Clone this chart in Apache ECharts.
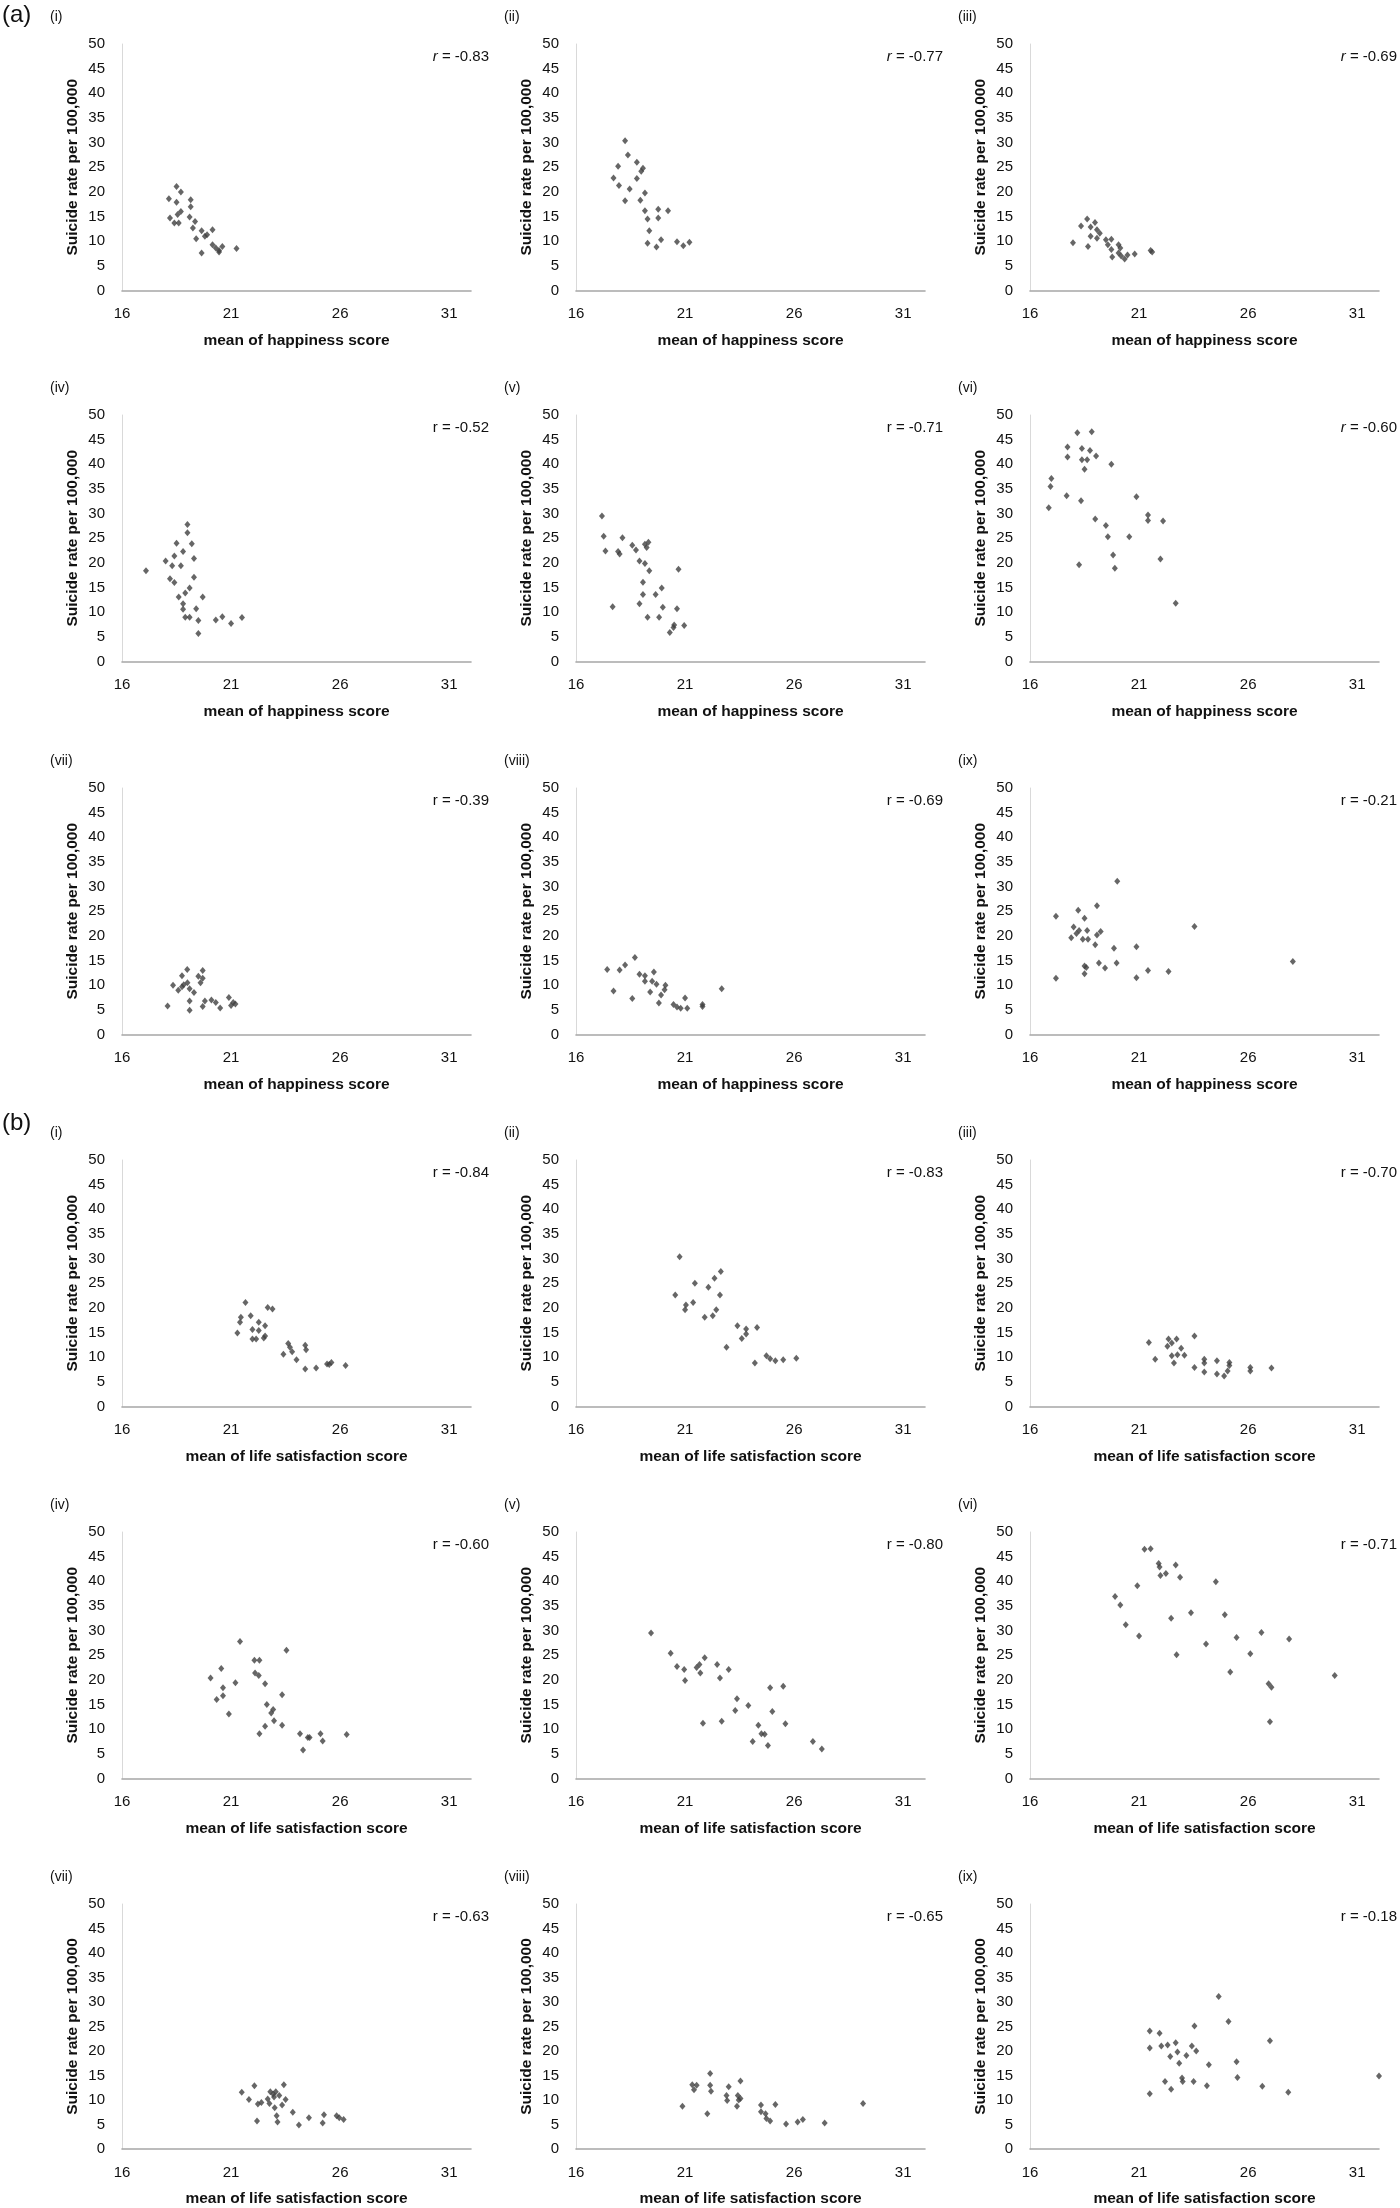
<!DOCTYPE html>
<html>
<head>
<meta charset="utf-8">
<script src="https://cdn.jsdelivr.net/npm/echarts@6/dist/echarts.min.js"></script>
<style>
  html, body { margin: 0; padding: 0; background: #fff; }
  #chart { width: 1400px; height: 2208px; }
</style>
</head>
<body>
<div id="chart"></div>
<script>
// ---------- data: [mean score, suicide rate per 100,000] ----------
const a1 = [[18.5,21.1],[18.7,20.0],[18.15,18.6],[18.5,17.9],[19.15,18.4],[19.15,17.0],[18.7,16.0],[18.2,14.7],[18.4,13.7],[18.6,13.7],[19.1,14.9],[19.35,14.0],[19.25,12.7],[19.65,12.1],[20.15,12.3],[19.4,10.5],[19.8,11.0],[19.9,11.3],[19.65,7.6],[20.15,9.3],[20.3,8.6],[20.45,8.1],[20.6,8.9],[20.45,7.8],[21.25,8.5],[18.55,15.4]];
const a2 = [[18.25,30.4],[18.38,27.5],[17.93,25.2],[18.79,26.0],[18.99,24.2],[19.07,24.8],[17.72,22.8],[18.79,22.7],[17.97,21.3],[18.46,20.6],[19.16,19.8],[18.25,18.2],[18.95,18.3],[19.16,16.2],[19.77,16.5],[20.22,16.2],[19.28,14.5],[19.77,14.7],[19.36,12.1],[19.28,9.6],[19.69,8.8],[19.9,10.3],[20.63,9.9],[20.92,9.1],[21.2,9.8]];
const a3 = [[18.62,14.5],[18.34,13.1],[18.98,13.8],[18.78,12.9],[19.07,12.3],[19.2,11.6],[18.78,11.0],[19.07,10.6],[18.66,8.9],[17.97,9.7],[19.48,10.3],[19.73,10.4],[19.57,9.3],[20.06,9.3],[20.14,8.6],[19.73,8.3],[20.06,7.6],[19.77,6.8],[20.18,7.0],[20.34,6.4],[20.47,7.2],[20.8,7.4],[21.53,8.1],[21.6,7.8]];
const a4 = [[17.1,18.4],[19.0,27.8],[19.0,26.1],[18.5,24.0],[19.2,23.9],[18.8,22.3],[18.4,21.4],[19.3,20.9],[18.0,20.4],[18.3,19.4],[18.7,19.4],[18.2,16.8],[18.4,16.0],[19.3,17.1],[19.1,14.9],[18.9,13.9],[18.6,13.1],[19.7,13.1],[18.8,11.7],[18.8,10.6],[19.4,10.7],[18.9,9.0],[19.1,9.0],[19.5,8.3],[20.3,8.4],[20.6,9.1],[21.0,7.7],[21.5,8.9],[19.5,5.7]];
const a5 = [[17.19,29.5],[17.27,25.4],[18.13,25.1],[17.35,22.4],[17.93,22.3],[18.0,21.8],[18.58,23.6],[18.75,22.6],[19.16,23.8],[19.32,24.2],[19.24,23.1],[18.91,20.4],[19.16,19.9],[19.36,18.4],[20.7,18.7],[17.68,11.1],[19.07,16.1],[19.93,14.9],[19.65,13.6],[19.07,13.6],[18.91,11.7],[19.98,11.0],[20.63,10.7],[19.28,9.0],[19.81,9.0],[20.47,6.9],[20.3,5.9],[20.96,7.3],[20.5,7.4]];
const a6 = [[18.17,46.4],[18.83,46.6],[17.72,43.5],[17.72,41.5],[18.38,43.2],[18.75,42.8],[19.03,41.7],[18.38,40.9],[18.62,40.9],[19.73,40.0],[18.5,39.0],[16.98,37.1],[16.94,35.5],[17.68,33.6],[18.34,32.6],[16.86,31.2],[20.88,33.4],[21.41,29.7],[21.41,28.6],[22.1,28.5],[18.99,28.9],[19.48,27.6],[20.55,25.3],[19.57,25.3],[19.81,21.6],[19.89,18.9],[18.25,19.6],[21.98,20.8],[22.68,11.8]];
const a7 = [[18.09,5.8],[18.34,10.0],[18.58,9.0],[18.75,11.9],[18.99,13.2],[18.83,10.1],[19.0,10.5],[19.1,9.3],[19.3,8.5],[19.5,11.8],[19.7,13.0],[19.6,10.5],[19.7,11.4],[19.1,6.8],[19.1,4.9],[19.7,5.7],[19.8,6.8],[20.1,7.0],[20.3,6.5],[20.5,5.4],[20.9,7.5],[21.0,5.9],[21.1,6.5],[21.2,6.2],[18.75,9.7]];
const a8 = [[17.43,13.2],[18.0,13.1],[18.25,14.1],[18.7,15.6],[17.72,8.8],[18.58,7.3],[18.91,12.2],[19.16,11.9],[19.57,12.7],[19.16,10.8],[19.49,10.8],[19.69,10.2],[20.1,10.0],[20.06,9.1],[19.4,8.6],[19.9,8.0],[19.8,6.4],[20.47,6.1],[20.63,5.6],[20.8,5.3],[21.1,5.3],[21.0,7.4],[21.8,6.1],[21.8,5.7],[22.68,9.3]];
const a9 = [[17.19,24.0],[17.19,11.4],[18.21,25.2],[19.07,26.1],[18.5,23.6],[18.0,21.8],[18.25,21.1],[18.62,21.1],[19.24,20.9],[17.89,19.6],[18.13,20.5],[18.42,19.3],[18.66,19.3],[19.07,20.2],[18.99,18.2],[19.85,17.5],[20.88,17.8],[20.0,31.1],[23.54,21.9],[19.16,14.5],[18.5,13.9],[18.58,13.6],[19.44,13.5],[19.97,14.5],[18.5,12.3],[20.88,11.5],[21.41,13.0],[22.35,12.8],[28.05,14.8]];

const b1 = [[21.66,21.1],[21.45,18.1],[21.41,17.1],[21.9,18.4],[22.68,20.1],[22.9,19.8],[22.27,17.1],[22.56,16.4],[21.98,15.6],[22.27,15.4],[21.29,14.9],[21.98,13.7],[22.15,13.7],[22.56,14.3],[22.5,13.9],[23.62,12.8],[24.4,12.4],[23.7,12.0],[23.8,11.1],[23.4,10.6],[24.44,11.5],[24.0,9.5],[24.4,7.6],[24.9,7.8],[25.4,8.6],[25.6,8.9],[25.5,8.5],[26.25,8.3]];
const b2 = [[20.75,30.4],[20.55,22.6],[21.04,20.6],[21.0,19.6],[21.37,21.1],[21.45,25.0],[22.64,27.4],[22.35,26.0],[22.07,24.2],[22.6,22.6],[22.43,19.6],[22.27,18.4],[21.9,18.1],[23.4,16.4],[23.8,15.7],[24.3,16.0],[23.8,14.7],[23.6,13.8],[22.9,12.0],[24.73,10.3],[24.9,9.7],[25.14,9.3],[25.5,9.5],[24.2,8.8],[26.1,9.8]];
const b3 = [[21.45,13.0],[21.74,9.6],[22.35,13.7],[22.72,13.7],[22.5,12.9],[22.3,12.2],[22.93,11.8],[23.54,14.3],[22.5,10.3],[22.76,10.5],[23.08,10.4],[22.6,8.8],[23.99,9.6],[23.99,8.8],[24.57,9.3],[25.14,8.9],[25.14,8.3],[23.54,7.9],[23.99,7.0],[24.57,6.6],[24.9,6.2],[25.06,7.2],[26.1,7.9],[26.1,7.2],[27.07,7.8]];
const b4 = [[20.06,20.4],[20.55,22.3],[21.41,27.8],[21.2,19.4],[20.63,18.4],[20.63,16.8],[20.34,16.0],[20.9,13.1],[22.07,24.0],[22.3,24.0],[22.1,21.4],[22.27,20.9],[22.56,19.2],[23.54,26.0],[23.34,17.0],[22.64,15.0],[22.93,14.0],[22.84,13.3],[22.97,11.7],[23.34,10.8],[22.56,10.6],[22.3,9.1],[24.16,9.1],[24.52,8.3],[24.6,8.3],[25.1,9.1],[25.2,7.6],[26.3,8.9],[24.3,5.8]];
const b5 = [[19.44,29.5],[20.34,25.4],[20.63,22.7],[20.96,22.1],[21.0,19.9],[21.53,22.5],[21.7,21.4],[21.66,23.1],[21.9,24.5],[22.47,23.1],[23.0,22.1],[22.6,20.4],[21.82,11.2],[22.68,11.6],[23.38,16.2],[23.9,14.8],[23.3,13.8],[24.9,18.4],[25.5,18.7],[25.0,13.6],[25.6,11.1],[24.36,10.8],[24.5,9.1],[24.65,9.0],[24.1,7.5],[24.8,6.7],[26.86,7.5],[27.27,6.0]];
const b6 = [[21.25,46.5],[21.53,46.6],[21.9,43.6],[21.94,42.9],[21.98,41.2],[22.23,41.6],[22.68,43.3],[22.88,40.8],[20.92,39.1],[24.52,39.9],[19.9,36.9],[20.14,35.2],[22.47,32.5],[23.38,33.6],[24.93,33.2],[20.39,31.2],[21.0,28.9],[25.47,28.6],[26.61,29.6],[27.88,28.3],[24.07,27.3],[26.1,25.3],[22.72,25.1],[25.18,21.6],[29.97,20.9],[26.94,19.2],[27.07,18.5],[27.0,11.5]];
const b7 = [[21.49,11.6],[22.07,12.9],[21.82,10.1],[22.23,9.2],[22.39,9.5],[22.19,5.7],[22.8,11.7],[22.93,11.2],[23.05,11.7],[22.76,9.3],[22.68,10.2],[22.97,10.6],[23.21,10.9],[23.42,13.1],[23.34,9.0],[23.5,10.1],[23.0,8.4],[23.09,6.8],[23.13,5.5],[23.83,7.5],[24.11,4.9],[24.57,6.4],[25.26,7.0],[25.2,5.3],[25.84,6.8],[25.96,6.4],[26.16,6.0]];
const b8 = [[20.88,8.7],[21.33,13.1],[21.41,12.1],[21.53,13.0],[22.15,15.4],[22.15,13.0],[22.19,11.8],[22.02,7.2],[23.0,12.7],[23.54,13.9],[22.9,10.9],[22.93,9.9],[23.42,10.9],[23.46,10.0],[23.54,10.3],[23.38,8.7],[24.48,9.0],[24.48,7.6],[24.69,7.2],[25.14,9.1],[24.73,6.2],[24.9,5.7],[25.63,5.1],[26.16,5.5],[26.4,6.0],[27.4,5.3],[29.16,9.3]];
const b9 = [[21.49,24.1],[21.94,23.6],[21.49,20.6],[22.02,21.0],[22.31,21.2],[22.68,21.7],[22.43,18.9],[22.76,19.8],[23.17,19.1],[23.54,25.1],[23.42,21.0],[23.62,20.0],[22.84,17.5],[24.2,17.2],[24.65,31.1],[25.1,26.0],[25.47,17.8],[25.51,14.6],[22.19,13.8],[22.97,14.5],[23.0,13.8],[23.5,13.8],[22.47,12.2],[24.11,12.9],[21.49,11.3],[26.65,12.8],[27.0,22.1],[27.84,11.6],[32.0,14.9]];

const panelData = [a1, a2, a3, a4, a5, a6, a7, a8, a9, b1, b2, b3, b4, b5, b6, b7, b8, b9];
const panelLabels = ['(i)','(ii)','(iii)','(iv)','(v)','(vi)','(vii)','(viii)','(ix)'];
const rValues = ['-0.83','-0.77','-0.69','-0.52','-0.71','-0.60','-0.39','-0.69','-0.21',
                 '-0.84','-0.83','-0.70','-0.60','-0.80','-0.71','-0.63','-0.65','-0.18'];
const rItalic = [true,true,true,false,false,true,false,false,false,
                 false,false,false,false,false,false,false,false,false];
const xTitles = ['mean of happiness score', 'mean of life satisfaction score'];
const yTitle = 'Suicide rate per 100,000';
const xTicks = { min: 16, max: 32, interval: 5 };
const yTicks = { min: 0, max: 50, interval: 5 };

// ---------- layout ----------
const FONT = 'Liberation Sans, Arial, sans-serif';
const gridLeft0 = 122, colStep = 454, gridW = 349, gridH = 246.5;
const rowTops = [44, 415, 788, 1160, 1532, 1904];

const grids = [], xAxes = [], yAxes = [], series = [], graphics = [];
panelData.forEach((d, i) => {
  const row = Math.floor(i / 3), col = i % 3;
  const left = gridLeft0 + colStep * col, top = rowTops[row];
  grids.push({ left: left, top: top, width: gridW, height: gridH });
  xAxes.push({
    gridIndex: i, type: 'value', min: xTicks.min, max: xTicks.max, interval: xTicks.interval,
    splitLine: { show: false }, axisTick: { show: false },
    axisLine: { show: true, onZero: false, lineStyle: { color: '#a6a6a6', width: 1.6 } },
    axisLabel: { showMaxLabel: false, margin: 16, fontSize: 15, color: '#111', fontFamily: FONT },
    name: xTitles[i < 9 ? 0 : 1], nameLocation: 'middle', nameGap: 42,
    nameTextStyle: { fontWeight: 'bold', fontSize: 15.5, color: '#111', fontFamily: FONT }
  });
  yAxes.push({
    gridIndex: i, type: 'value', min: yTicks.min, max: yTicks.max, interval: yTicks.interval,
    splitLine: { show: false }, axisTick: { show: false },
    axisLine: { show: true, lineStyle: { color: '#d9d9d9', width: 1 } },
    axisLabel: { margin: 17, fontSize: 15, color: '#111', fontFamily: FONT },
    name: yTitle, nameLocation: 'middle', nameGap: 41,
    nameTextStyle: { fontWeight: 'bold', fontSize: 15.5, color: '#111', fontFamily: FONT }
  });
  series.push({
    type: 'scatter', xAxisIndex: i, yAxisIndex: i, data: d,
    symbol: 'diamond', symbolSize: [6, 7],
    itemStyle: { color: '#404040' }, silent: true, animation: false
  });
  graphics.push({
    type: 'text', x: 50 + colStep * col, y: top - 27,
    style: { text: panelLabels[i % 9], font: '14px ' + FONT, fill: '#111', align: 'left', verticalAlign: 'middle' }
  });
  graphics.push({
    type: 'text', x: 489 + colStep * col, y: top + 13,
    style: {
      text: (rItalic[i] ? '{it|r}' : '{n|r}') + '{n| = ' + rValues[i] + '}',
      align: 'right', verticalAlign: 'middle',
      rich: {
        it: { font: 'italic 15px ' + FONT, fill: '#111' },
        n: { font: '15px ' + FONT, fill: '#111' }
      }
    }
  });
});
graphics.push({ type: 'text', x: 2, y: 15, style: { text: '(a)', font: '24px ' + FONT, fill: '#111', verticalAlign: 'middle' } });
graphics.push({ type: 'text', x: 2, y: 1123, style: { text: '(b)', font: '24px ' + FONT, fill: '#111', verticalAlign: 'middle' } });

const chart = echarts.init(document.getElementById('chart'), null, { renderer: 'canvas' });
chart.setOption({
  backgroundColor: '#fff',
  animation: false,
  grid: grids, xAxis: xAxes, yAxis: yAxes, series: series, graphic: graphics
});
</script>
</body>
</html>
